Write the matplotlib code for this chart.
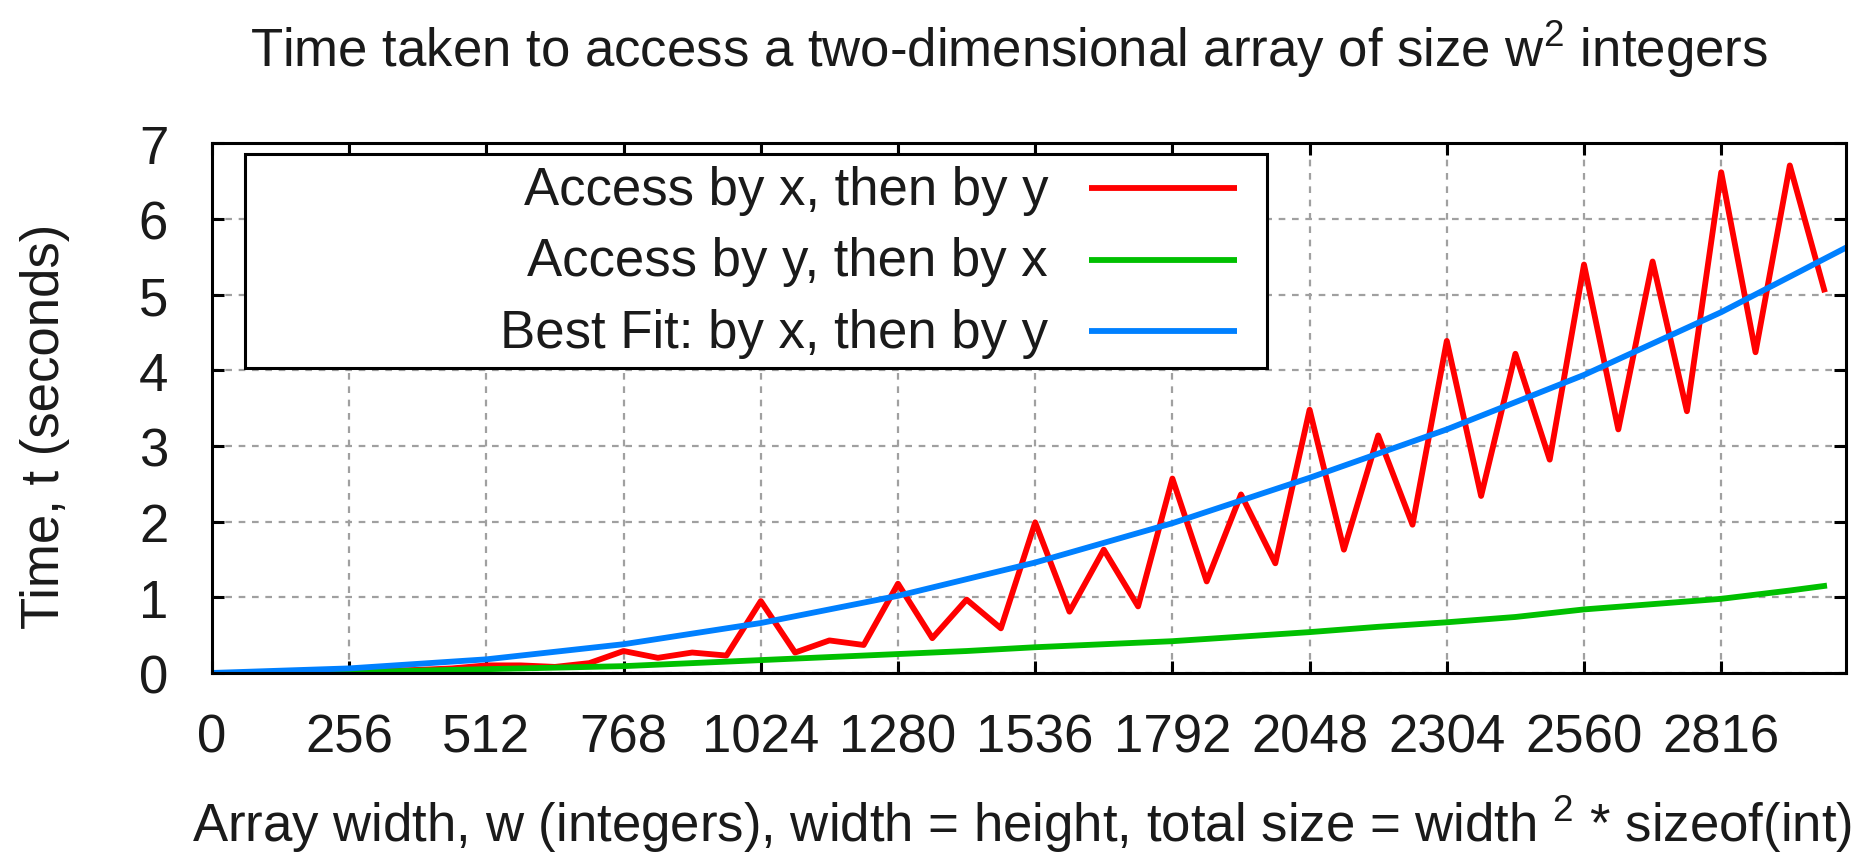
import numpy as np
import matplotlib
matplotlib.use('Agg')
import matplotlib.pyplot as plt
from matplotlib.patches import Rectangle

plt.rcParams['font.family'] = ['Liberation Sans', 'DejaVu Sans']
plt.rcParams['mathtext.default'] = 'regular'

# access by x, then by y (measured every 64 integers of width)
width_xy = np.arange(0, 3009, 64)
time_xy = [0.0, 0.0, 0.01, 0.01, 0.02, 0.03, 0.04, 0.06,
           0.10, 0.10, 0.08, 0.13, 0.29, 0.20, 0.27, 0.23,
           0.95, 0.27, 0.43, 0.37, 1.18, 0.46, 0.97, 0.59,
           1.99, 0.81, 1.63, 0.88, 2.57, 1.21, 2.36, 1.45,
           3.48, 1.63, 3.14, 1.96, 4.39, 2.34, 4.22, 2.82,
           5.40, 3.22, 5.44, 3.46, 6.62, 4.24, 6.71, 5.07]

# access by y, then by x
width_yx = [0, 128, 256, 384, 512, 640, 768, 896, 1024, 1152, 1280, 1408,
            1536, 1664, 1792, 1920, 2048, 2176, 2304, 2432, 2560, 2688,
            2816, 2944, 3008]
time_yx = [0.0, 0.0, 0.01, 0.03, 0.05, 0.07, 0.09, 0.13, 0.17, 0.21, 0.25,
           0.29, 0.34, 0.38, 0.42, 0.48, 0.54, 0.61, 0.67, 0.74, 0.84,
           0.91, 0.98, 1.09, 1.15]

# best fit for x-then-y
width_fit = [0, 256, 512, 768, 1024, 1280, 1536, 1792, 2048, 2304, 2560,
             2816, 3048]
time_fit = [0.0, 0.06, 0.18, 0.38, 0.66, 1.02, 1.46, 1.98, 2.58, 3.22,
            3.94, 4.77, 5.62]

labels = ['Access by x, then by y', 'Access by y, then by x',
          'Best Fit: by x, then by y']
colors = ['#ff0000', '#00c000', '#0080ff']

xticks = list(range(0, 2817, 256))
yticks = list(range(0, 8))

fs = 38
lw = 4.2
txt_col = '#1a1a1a'

fig = plt.figure(figsize=(18.61, 8.53), dpi=100)
ax = fig.add_axes([0.1139, 0.2099, 0.8778, 0.6207])

ax.plot(width_xy, time_xy, color=colors[0], lw=lw)
ax.plot(width_yx, time_yx, color=colors[1], lw=lw)
ax.plot(width_fit, time_fit, color=colors[2], lw=lw)

ax.set_xlim(0, 3048)
ax.set_ylim(0, 7)
ax.set_xticks(xticks)
ax.set_yticks(yticks)
ax.tick_params(axis='both', direction='in', length=8.5, width=2.2,
               top=True, right=True, labelsize=fs, labelcolor=txt_col)
ax.tick_params(axis='x', pad=28.5)
ax.tick_params(axis='y', pad=31.5)
for sp in ax.spines.values():
    sp.set_linewidth(2.2)

ax.set_axisbelow(True)
ax.grid(True, color='#a0a0a0', lw=1.6, linestyle=(0, (3, 3)))

# key box in the top left corner, text on the left, sample line on the right
ax.add_patch(Rectangle((0.01996, 0.5760), 0.6257, 0.4042,
                       transform=ax.transAxes, facecolor='white',
                       edgecolor='black', lw=2.2, zorder=5, clip_on=False))
line_rows = [0.9160, 0.7805, 0.6459]
text_rows = [0.8857, 0.7507, 0.6157]
for i in range(3):
    ax.text(0.5118, text_rows[i], labels[i], transform=ax.transAxes,
            ha='right', va='baseline', fontsize=fs, color=txt_col, zorder=6)
    ax.plot([0.5369, 0.6275], [line_rows[i], line_rows[i]],
            transform=ax.transAxes, color=colors[i], lw=lw, zorder=6,
            solid_capstyle='butt', clip_on=False)

fig.text(0.5422, 0.9215,
         'Time taken to access a two-dimensional array of size w$^{2}$ integers',
         ha='center', va='baseline', fontsize=fs, color=txt_col)
fig.text(0.5494, 0.0129,
         'Array width, w (integers), width = height, total size = width $^{2}$ * sizeof(int)',
         ha='center', va='baseline', fontsize=fs, color=txt_col)
fig.text(0.0242, 0.50, 'Time, t (seconds)', rotation=90,
         ha='center', va='center', fontsize=fs, color=txt_col)

fig.savefig('out.png', dpi=100)
